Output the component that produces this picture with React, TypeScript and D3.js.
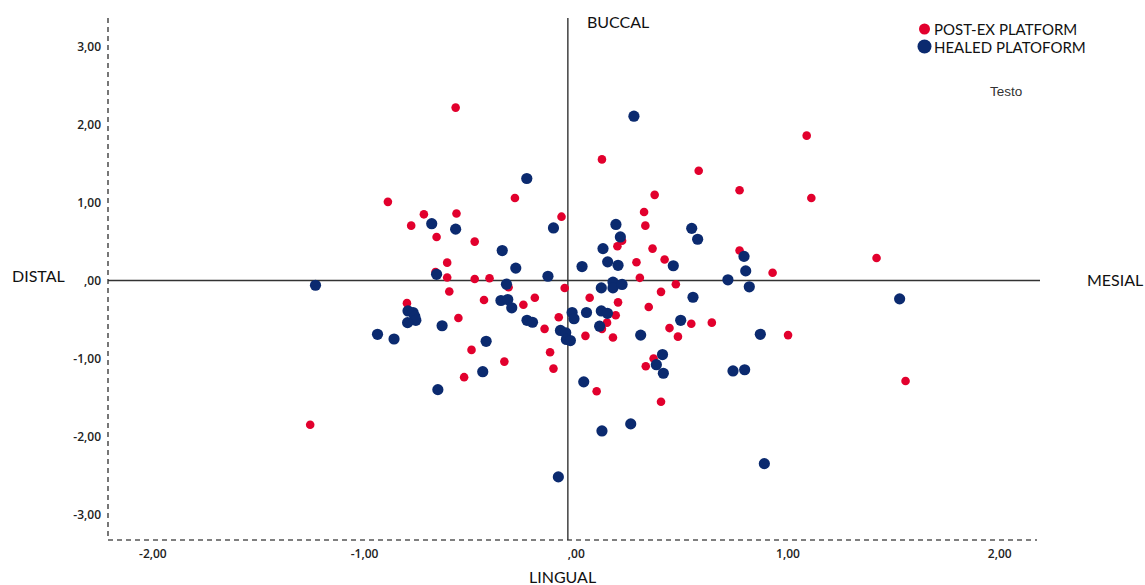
import React from "react";
import * as d3 from "d3";

// POST-EX PLATFORM (red)
const postExX = [-0.57,-0.29,-0.89,-0.72,-0.566,-0.07,-0.78,-0.66,-0.48,-0.61,-0.665,-0.61,-0.48,-0.41,-0.32,-0.055,-0.60,-0.80,-0.436,-0.196,-0.25,-0.557,-0.083,-0.15,-0.495,-0.124,-0.34,-0.53,-0.108,-1.257,1.088,0.121,0.578,0.771,1.11,0.37,0.32,0.326,0.216,0.194,0.36,0.284,0.417,0.771,0.927,1.418,0.30,0.47,0.063,0.40,0.197,0.342,0.186,0.145,0.121,0.043,0.173,0.543,0.64,0.44,0.48,1.00,0.365,0.328,1.555,0.096,0.40];
const postExY = [2.22,1.06,1.01,0.85,0.86,0.82,0.705,0.56,0.50,0.23,0.11,0.04,0.02,0.03,-0.085,-0.095,-0.14,-0.29,-0.25,-0.22,-0.31,-0.48,-0.47,-0.62,-0.89,-0.92,-1.04,-1.24,-1.13,-1.85,1.86,1.555,1.41,1.16,1.06,1.10,0.88,0.705,0.51,0.44,0.41,0.235,0.27,0.385,0.10,0.29,0.035,-0.047,-0.22,-0.145,-0.28,-0.34,-0.445,-0.54,-0.62,-0.71,-0.73,-0.555,-0.54,-0.61,-0.72,-0.70,-1.00,-1.10,-1.29,-1.42,-1.555];

// HEALED PLATOFORM (blue)
const healedX = [-0.234,-0.683,-0.57,-0.108,-0.35,-0.286,-0.66,-0.134,-1.232,-0.33,-0.356,-0.324,-0.305,-0.795,-0.771,-0.763,-0.758,-0.797,-0.634,-0.939,-0.861,-0.02,-0.011,-0.233,-0.207,-0.075,-0.05,-0.047,-0.028,-0.426,-0.442,-0.654,-0.085,0.272,0.187,0.208,0.545,0.573,0.126,0.148,0.197,0.027,0.458,0.792,0.80,0.716,0.817,0.173,0.173,0.216,0.118,0.551,1.527,0.048,0.118,0.147,0.11,0.304,0.493,0.869,0.407,0.378,0.411,0.74,0.795,0.035,0.257,0.121,0.888];
const healedY = [1.31,0.73,0.66,0.675,0.385,0.16,0.08,0.055,-0.06,-0.047,-0.256,-0.244,-0.35,-0.39,-0.41,-0.46,-0.51,-0.54,-0.58,-0.69,-0.75,-0.41,-0.49,-0.51,-0.535,-0.64,-0.67,-0.756,-0.77,-0.78,-1.17,-1.40,-2.52,2.11,0.72,0.56,0.67,0.53,0.41,0.24,0.196,0.18,0.19,0.31,0.124,0.01,-0.08,-0.02,-0.094,-0.05,-0.094,-0.214,-0.235,-0.41,-0.39,-0.42,-0.586,-0.70,-0.51,-0.69,-0.95,-1.08,-1.19,-1.16,-1.145,-1.30,-1.84,-1.93,-2.35];

const xTicks = [-2, -1, 0, 1, 2];
const yTicks = [-3, -2, -1, 0, 1, 2, 3];
const xTickLabels = ["-2,00", "-1,00", ",00", "1,00", "2,00"];
const yTickLabels = ["-3,00", "-2,00", "-1,00", ",00", "1,00", "2,00", "3,00"];
const legendLabels = ["POST-EX PLATFORM", "HEALED PLATOFORM"];
const refX = -0.04;
const refY = 0;

const RED = "#e2002d";
const BLUE = "#0b2a6f";

export default function App() {
  const W = 1145, H = 585;
  const left = 108, right = 1040, top = 18, bottom = 540;
  const x = d3.scaleLinear().domain([-2.212, 2.19]).range([left, right]);
  const y = d3.scaleLinear().domain([-3.33, 3.37]).range([bottom, top]);
  const tickFont = "'Open Sans', sans-serif";
  const labelFont = "Lato, sans-serif";
  const red = d3.zip(postExX, postExY);
  const blue = d3.zip(healedX, healedY);
  return (
    <div style={{ position: "absolute", left: 0, top: 0 }}>
      <svg width={W} height={H} style={{ display: "block", background: "#fff" }}>
        {/* dashed axes */}
        <line x1={left} x2={left} y1={top} y2={bottom} stroke="#555" strokeWidth={1.6} strokeDasharray="5,4" />
        <line x1={left} x2={1037} y1={bottom} y2={bottom} stroke="#555" strokeWidth={1.6} strokeDasharray="5,4" />
        {/* reference lines */}
        <line x1={x(refX)} x2={x(refX)} y1={top} y2={bottom} stroke="#333" strokeWidth={1.4} />
        <line x1={left} x2={right} y1={y(refY)} y2={y(refY)} stroke="#333" strokeWidth={1.4} />
        {/* y tick labels */}
        {yTicks.map((t, i) => (
          <text key={"y" + t} x={101} y={y(t) + 4.5} textAnchor="end" fontFamily={tickFont} fontSize={12} fontWeight={600} fill="#222">
            {yTickLabels[i]}
          </text>
        ))}
        {xTicks.map((t, i) => (
          <text key={"x" + t} x={x(t)} y={558} textAnchor="middle" fontFamily={tickFont} fontSize={12} fontWeight={600} fill="#222">
            {xTickLabels[i]}
          </text>
        ))}
        {/* points */}
        {red.map((d, i) => (
          <circle key={"r" + i} cx={x(d[0])} cy={y(d[1])} r={4.3} fill={RED} />
        ))}
        {blue.map((d, i) => (
          <circle key={"b" + i} cx={x(d[0])} cy={y(d[1])} r={5.6} fill={BLUE} />
        ))}
        {/* direction labels */}
        <text x={587} y={28} fontFamily={labelFont} fontSize={16} fill="#111">BUCCAL</text>
        <text x={529} y={583} fontFamily={labelFont} fontSize={16} fill="#111">LINGUAL</text>
        <text x={12} y={282} fontFamily={labelFont} fontSize={16} fill="#111">DISTAL</text>
        <text x={1087} y={286} fontFamily={labelFont} fontSize={16} fill="#111">MESIAL</text>
        {/* legend */}
        <circle cx={924.5} cy={29} r={5.5} fill={RED} />
        <text x={934} y={35} fontFamily={labelFont} fontSize={15} fill="#111">{legendLabels[0]}</text>
        <circle cx={924.5} cy={46.5} r={7} fill={BLUE} />
        <text x={934} y={52.5} fontFamily={labelFont} fontSize={15} fill="#111">{legendLabels[1]}</text>
        <text x={990} y={96} fontFamily="'Liberation Sans', Arial, sans-serif" fontSize={13.5} fill="#333">Testo</text>
      </svg>
    </div>
  );
}
